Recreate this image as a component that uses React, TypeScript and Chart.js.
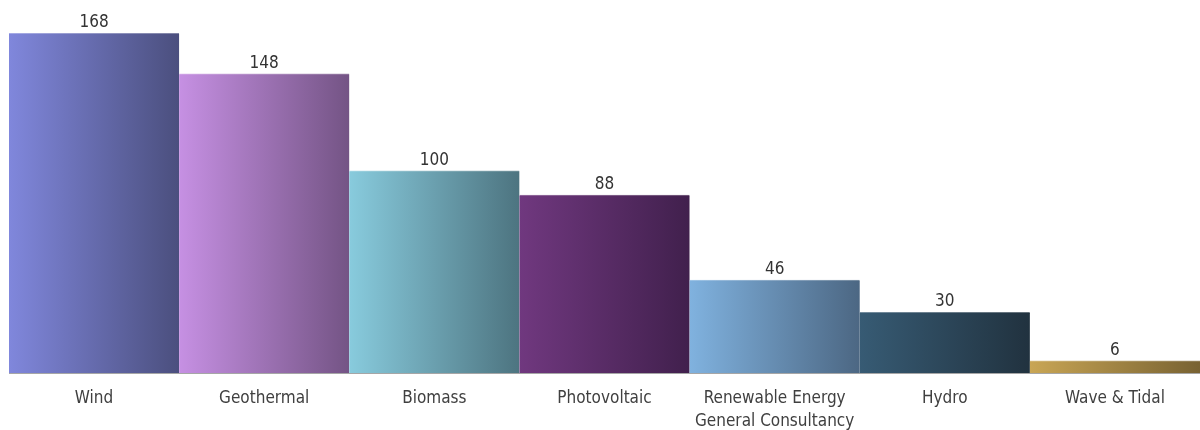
import React, { useEffect, useRef } from "react";
import { Chart, registerables } from "chart.js";

Chart.register(...registerables);

const categories: (string | string[])[] = [
  "Wind",
  "Geothermal",
  "Biomass",
  "Photovoltaic",
  ["Renewable Energy", "General Consultancy"],
  "Hydro",
  "Wave & Tidal",
];

const counts = [168, 148, 100, 88, 46, 30, 6];

// left / right stops of each bar's horizontal gradient
const gradientLeft = ["#8087dc", "#c690e3", "#88cbdd", "#70387f", "#80b2df", "#375b74", "#c9a655"];
const gradientRight = ["#4b4f7e", "#745485", "#4d7480", "#41204d", "#4c6783", "#21323f", "#786232"];

const yMax = 180;

const FONT_FAMILY = "'DejaVu Sans Condensed', 'DejaVu Sans', sans-serif";

function mixWithWhite(hex: string, t: number): string {
  const n = parseInt(hex.slice(1), 16);
  const r = (n >> 16) & 255;
  const g = (n >> 8) & 255;
  const b = n & 255;
  const m = (c: number) => Math.round(c + (255 - c) * t);
  return `rgb(${m(r)},${m(g)},${m(b)})`;
}

function barGradient(ctx: any, lighten: number) {
  const chart = ctx.chart;
  const i = ctx.dataIndex;
  const xs = chart.scales?.x;
  const area = chart.chartArea;
  if (!xs || !area || i === undefined) return gradientLeft[i ?? 0];
  const half = area.width / categories.length / 2;
  const cx = xs.getPixelForValue(i);
  const g = chart.ctx.createLinearGradient(cx - half, 0, cx + half, 0);
  g.addColorStop(0, lighten ? mixWithWhite(gradientLeft[i], lighten) : gradientLeft[i]);
  g.addColorStop(1, lighten ? mixWithWhite(gradientRight[i], lighten) : gradientRight[i]);
  return g;
}

// value printed above each bar
const valueLabels = {
  id: "valueLabels",
  afterDatasetsDraw(chart: any) {
    const { ctx } = chart;
    const meta = chart.getDatasetMeta(0);
    ctx.save();
    ctx.font = `17px ${FONT_FAMILY}`;
    ctx.fillStyle = "#333333";
    ctx.textAlign = "center";
    ctx.textBaseline = "alphabetic";
    meta.data.forEach((bar: any, i: number) => {
      ctx.fillText(String(counts[i]), bar.x, bar.y - 6);
    });
    ctx.restore();
  },
};

export default function App() {
  const canvasRef = useRef<HTMLCanvasElement | null>(null);

  useEffect(() => {
    if (!canvasRef.current) return;
    const chart = new Chart(canvasRef.current, {
      type: "bar",
      data: {
        labels: categories,
        datasets: [
          {
            data: counts,
            backgroundColor: (ctx: any) => barGradient(ctx, 0),
            borderColor: (ctx: any) => barGradient(ctx, 0.3),
            borderWidth: { top: 1, left: 0, right: 0, bottom: 0 },
            borderSkipped: "bottom",
            categoryPercentage: 1,
            barPercentage: 1,
          },
        ],
      },
      options: {
        animation: false,
        responsive: true,
        maintainAspectRatio: false,
        layout: { padding: { left: 9, right: 0, top: 9, bottom: 0 } },
        plugins: {
          legend: { display: false },
          tooltip: { enabled: false },
        },
        scales: {
          x: {
            grid: { display: false, drawTicks: false },
            border: { display: true, color: "#a6a6a6", width: 1 },
            ticks: {
              color: "#404040",
              padding: 14,
              maxRotation: 0,
              autoSkip: false,
              font: { family: FONT_FAMILY, size: 17, lineHeight: 1.34 },
            },
            afterFit(scale: any) {
              scale.height = 57;
            },
          },
          y: {
            display: false,
            min: 0,
            max: yMax,
          },
        },
      },
      plugins: [valueLabels],
    });
    return () => chart.destroy();
  }, []);

  return (
    <div style={{ position: "fixed", left: 0, top: 0, width: "100vw", height: "100vh" }}>
      <canvas ref={canvasRef} />
    </div>
  );
}
